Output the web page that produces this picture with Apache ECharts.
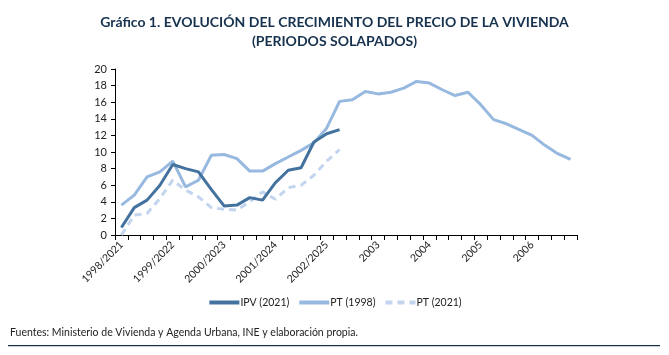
<!DOCTYPE html>
<html>
<head>
<meta charset="utf-8">
<script src="https://cdn.jsdelivr.net/npm/echarts@6/dist/echarts.min.js"></script>
<style>
html,body{margin:0;padding:0;background:#fff;}
#c{width:669px;height:355px;}
</style>
</head>
<body>
<div id="c"></div>
<script>
const yearLabels = ['1998/2021','1999/2022','2000/2023','2001/2024','2002/2025','2003','2004','2005','2006'];
const quartersPerYear = 4;
const ipv2021 = [0.9,3.3,4.2,6.0,8.5,8.0,7.6,5.5,3.5,3.6,4.5,4.2,6.3,7.8,8.1,11.2,12.2,12.7];
const pt1998 = [3.6,4.8,7.0,7.6,8.9,5.8,6.6,9.6,9.7,9.2,7.7,7.7,8.6,9.4,10.2,11.1,12.9,16.1,16.3,17.3,17.0,17.2,17.7,18.5,18.3,17.5,16.8,17.2,15.7,13.9,13.4,12.7,12.0,10.8,9.8,9.1];
const pt2021 = [0.0,2.4,2.6,4.4,6.6,5.4,4.6,3.3,3.1,3.0,4.0,5.2,4.3,5.7,6.0,7.2,8.9,10.3];

const categories = [];
yearLabels.forEach(y => { for (let q = 0; q < quartersPerYear; q++) categories.push(q === 0 ? y : y + ' T' + (q + 1)); });

const font = 'Lato, "Open Sans", sans-serif';
const chart = echarts.init(document.getElementById('c'), null, {renderer: 'canvas'});
chart.setOption({
  animation: false,
  backgroundColor: '#fff',
  title: {
    text: 'Gráfico 1. EVOLUCIÓN DEL CRECIMIENTO DEL PRECIO DE LA VIVIENDA\n(PERIODOS SOLAPADOS)',
    left: 'center', top: 8,
    textStyle: {fontFamily: font, fontSize: 14, fontWeight: 'bold', color: '#17324f', lineHeight: 19}
  },
  legend: {
    bottom: 42, left: 'center',
    itemWidth: 30, itemHeight: 10, itemGap: 8,
    itemStyle: {opacity: 0},
    lineStyle: {width: 4},
    textStyle: {fontFamily: font, fontSize: 10.5, color: '#222', padding: [0, 0, 0, -4]},
    data: ['IPV (2021)', 'PT (1998)', 'PT (2021)']
  },
  grid: {left: 115, right: 92, top: 69, bottom: 120},
  xAxis: {
    type: 'category', data: categories, boundaryGap: true,
    axisLine: {lineStyle: {color: '#000', width: 1}},
    axisTick: {show: true, interval: 0, length: 5, lineStyle: {color: '#000'}},
    axisLabel: {
      interval: 3, rotate: 45, fontFamily: font, fontSize: 10.5, color: '#222', margin: 8,
      formatter: v => v.indexOf(' T') >= 0 ? '' : v
    }
  },
  yAxis: {
    type: 'value', min: 0, max: 20, interval: 2,
    splitLine: {show: false},
    axisLine: {show: true, lineStyle: {color: '#000', width: 1}},
    axisTick: {show: true, length: 4, lineStyle: {color: '#000'}},
    axisLabel: {fontFamily: font, fontSize: 11, color: '#222', margin: 8}
  },
  series: [
    {name: 'IPV (2021)', type: 'line', data: ipv2021, symbol: 'none', z: 3,
     lineStyle: {color: '#44729f', width: 3}, itemStyle: {color: '#44729f'}},
    {name: 'PT (1998)', type: 'line', data: pt1998, symbol: 'none', z: 2,
     lineStyle: {color: '#97b9e0', width: 3}, itemStyle: {color: '#97b9e0'}},
    {name: 'PT (2021)', type: 'line', data: pt2021, symbol: 'none', z: 1,
     lineStyle: {color: '#c3d5ee', width: 3, type: [7, 5]}, itemStyle: {color: '#c3d5ee'}}
  ],
  graphic: [
    {type: 'text', left: 10, top: 327,
     style: {text: 'Fuentes: Ministerio de Vivienda y Agenda Urbana, INE y elaboración propia.', font: '10.5px ' + font, fill: '#222'}},
    {type: 'rect', shape: {x: 8, y: 345, width: 652, height: 1.2}, style: {fill: '#17324f'}}
  ]
});
</script>
</body>
</html>
